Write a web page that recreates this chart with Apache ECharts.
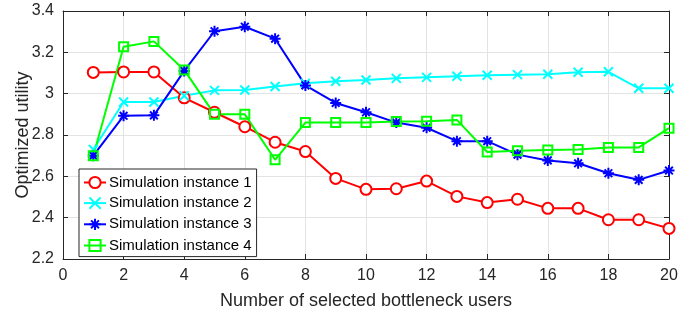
<!DOCTYPE html>
<html>
<head>
<meta charset="utf-8">
<script src="https://cdn.jsdelivr.net/npm/echarts@6/dist/echarts.min.js"></script>
<style>
  html, body { margin: 0; padding: 0; background: #fff; }
  #chart { width: 699px; height: 314px; }
</style>
</head>
<body>
<div id="chart"></div>
<script>
'use strict';

/* ── Data ── */
const xUsers = [1, 2, 3, 4, 5, 6, 7, 8, 9, 10, 11, 12, 13, 14, 15, 16, 17, 18, 19, 20];
const seriesNames = ['Simulation instance 1', 'Simulation instance 2', 'Simulation instance 3', 'Simulation instance 4'];
const inst1 = [3.103, 3.105, 3.105, 2.98, 2.91, 2.84, 2.765, 2.72, 2.59, 2.537, 2.54, 2.577, 2.503, 2.473, 2.489, 2.445, 2.445, 2.39, 2.39, 2.348];
const inst2 = [2.73, 2.96, 2.96, 2.99, 3.016, 3.018, 3.035, 3.05, 3.06, 3.066, 3.074, 3.079, 3.084, 3.089, 3.092, 3.094, 3.104, 3.106, 3.026, 3.026];
const inst3 = [2.70, 2.893, 2.895, 3.11, 3.302, 3.324, 3.266, 3.04, 2.955, 2.91, 2.86, 2.835, 2.77, 2.77, 2.705, 2.677, 2.663, 2.615, 2.583, 2.628];
const inst4 = [2.70, 3.227, 3.253, 3.115, 2.90, 2.90, 2.68, 2.86, 2.86, 2.86, 2.865, 2.866, 2.873, 2.718, 2.724, 2.727, 2.73, 2.739, 2.74, 2.833];
const xTicks = [0, 2, 4, 6, 8, 10, 12, 14, 16, 18, 20];
const yTicks = [2.2, 2.4, 2.6, 2.8, 3, 3.2, 3.4];

/* ── Style helpers ── */
const TXT = '#262626';
const GRID = '#e3e3e3';
const FONT = "'Liberation Sans', Arial, sans-serif";

const SYM_X = 'path://M0,0L10,10M10,0L0,10';
const SYM_STAR = 'path://M5,0L5,10M0,5L10,5M1.5,1.5L8.5,8.5M8.5,1.5L1.5,8.5';

function pairs(vals) {
  return xUsers.map((x, i) => [x, vals[i]]);
}

function lineSeries(name, vals, color, symbol, size, fill) {
  return {
    name: name,
    type: 'line',
    data: pairs(vals),
    symbol: symbol,
    symbolSize: size,
    showAllSymbol: true,
    lineStyle: { color: color, width: 2 },
    itemStyle: { color: fill, borderColor: color, borderWidth: 2 },
    emphasis: { disabled: true },
    z: 3
  };
}

const chart = echarts.init(document.getElementById('chart'), null, { renderer: 'canvas' });

const frameAxis = {
  axisLine: { show: true, onZero: false, lineStyle: { color: TXT, width: 1 } },
  axisTick: { show: true, inside: true, length: 5, lineStyle: { color: TXT } },
  axisLabel: { show: false },
  splitLine: { show: false }
};

chart.setOption({
  animation: false,
  backgroundColor: '#fff',
  textStyle: { fontFamily: FONT, color: TXT },
  grid: { left: 63, right: 30, top: 11, bottom: 55, containLabel: false, outerBoundsMode: 'none' },
  legend: {
    orient: 'vertical',
    left: 79,
    top: 169,
    data: seriesNames,
    itemWidth: 22,
    itemHeight: 14,
    itemGap: 5,
    padding: [6, 5, 3, 4],
    backgroundColor: '#fff',
    borderColor: TXT,
    borderWidth: 1,
    borderRadius: 0,
    textStyle: { fontFamily: FONT, fontSize: 15, color: '#000', padding: [0, 0, 0, -2] }
  },
  xAxis: [
    {
      type: 'value',
      min: 0,
      max: 20,
      interval: 2,
      name: 'Number of selected bottleneck users',
      nameLocation: 'middle',
      nameGap: 33,
      nameMoveOverlap: false,
      nameTextStyle: { fontSize: 18, color: TXT, fontFamily: FONT },
      axisLine: { show: true, onZero: false, lineStyle: { color: TXT, width: 1 } },
      axisTick: { show: true, inside: true, length: 5, lineStyle: { color: TXT } },
      axisLabel: {
        fontSize: 16, color: TXT, margin: 9,
        formatter: v => xTicks.includes(v) ? String(v) : ''
      },
      splitLine: { show: true, lineStyle: { color: GRID, width: 1 } }
    },
    Object.assign({ type: 'value', position: 'top', min: 0, max: 20, interval: 2 }, frameAxis)
  ],
  yAxis: [
    {
      type: 'value',
      min: 2.2,
      max: 3.4,
      interval: 0.2,
      name: 'Optimized utility',
      nameLocation: 'middle',
      nameGap: 31,
      nameMoveOverlap: false,
      nameTextStyle: { fontSize: 18, color: TXT, fontFamily: FONT },
      axisLine: { show: true, onZero: false, lineStyle: { color: TXT, width: 1 } },
      axisTick: { show: true, inside: true, length: 5, lineStyle: { color: TXT } },
      axisLabel: {
        fontSize: 16, color: TXT, margin: 9,
        formatter: v => {
          const t = yTicks.find(k => Math.abs(k - v) < 1e-6);
          return t === undefined ? '' : String(t);
        }
      },
      splitLine: { show: true, lineStyle: { color: GRID, width: 1 } }
    },
    Object.assign({ type: 'value', position: 'right', min: 2.2, max: 3.4, interval: 0.2 }, frameAxis)
  ],
  series: [
    lineSeries(seriesNames[0], inst1, '#ff0000', 'circle', 11, '#fff'),
    lineSeries(seriesNames[1], inst2, '#00ffff', SYM_X, 9, 'none'),
    lineSeries(seriesNames[2], inst3, '#0000ff', SYM_STAR, 11, 'none'),
    lineSeries(seriesNames[3], inst4, '#00ff00', 'rect', 9, 'none')
  ]
});
</script>
</body>
</html>
